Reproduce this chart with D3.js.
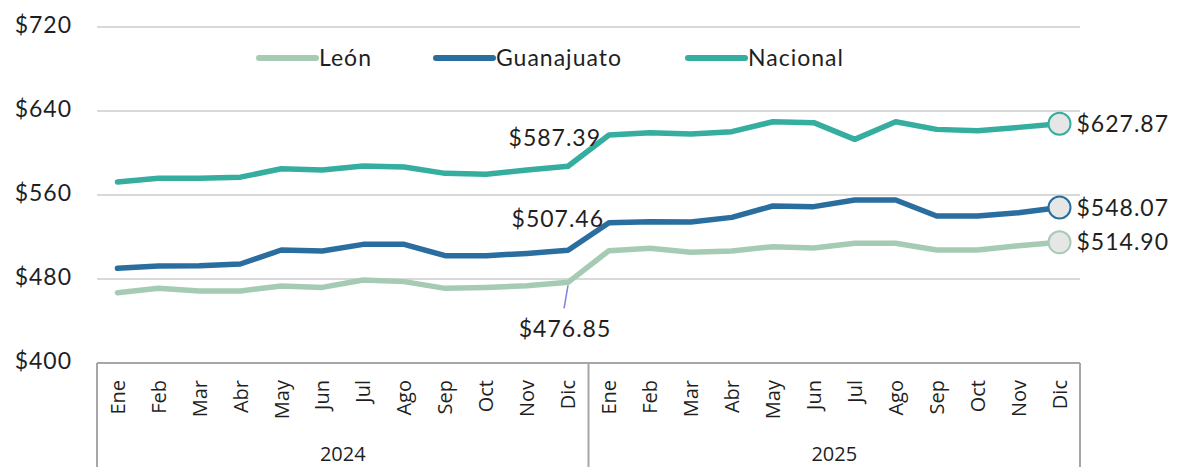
<!DOCTYPE html>
<html>
<head>
<meta charset="utf-8">
<script src="https://cdn.jsdelivr.net/npm/d3@7"></script>
<style>
  body { margin: 0; background: #fff; }
  svg { display: block; }
</style>
</head>
<body>
<div id="chart"></div>
<script>
const months = ["Ene", "Feb", "Mar", "Abr", "May", "Jun", "Jul", "Ago", "Sep", "Oct", "Nov", "Dic"];
const years = ["2024", "2025"];

// monthly values, Ene 2024 .. Dic 2025
const leon = [467.0, 471.1, 468.6, 468.6, 473.3, 472.0, 479.0, 477.5, 471.1, 472.0, 473.6, 476.85,
    507.0, 509.2, 505.4, 506.7, 510.8, 509.5, 514.0, 514.0, 507.6, 507.6, 511.7, 514.90];
const guanajuato = [490.2, 492.4, 492.7, 494.3, 507.6, 506.7, 513.0, 513.0, 502.2, 502.2, 504.4, 507.46,
    533.6, 534.6, 534.3, 538.7, 549.5, 548.9, 555.2, 555.2, 540.0, 540.0, 543.1, 548.07];
const nacional = [572.4, 576.0, 576.0, 577.0, 585.0, 583.8, 587.6, 586.7, 580.6, 579.7, 583.8, 587.39,
    617.1, 619.3, 618.0, 620.3, 629.8, 628.9, 613.0, 629.8, 622.5, 621.3, 624.4, 627.87];

const yTicks = [400, 480, 560, 640, 720];

const series = [
    { name: "León", values: leon, color: "#a6cbb5" },
    { name: "Guanajuato", values: guanajuato, color: "#2a6e9f" },
    { name: "Nacional", values: nacional, color: "#35ad9f" }
];

const width = 1177, height = 467;
const plotLeft = 97, plotRight = 1080, plotTop = 27, plotBottom = 363;

const svg = d3.select("#chart").append("svg")
    .attr("width", width)
    .attr("height", height);

const labels = [];
years.forEach(yr => months.forEach(m => labels.push(yr + "-" + m)));

const x = d3.scaleBand().domain(d3.range(labels.length)).range([plotLeft, plotRight]);
const cx = i => x(i) + x.bandwidth() / 2;
const y = d3.scaleLinear().domain([400, 720]).range([plotBottom, plotTop]);

const valueFont = "Lato, 'Open Sans', sans-serif";
const tickFont = "'Open Sans', 'Noto Sans', sans-serif";
const textColor = "#1f1f1f";

// helper for the value-style text
function valueText(sel) {
    return sel.style("font-family", valueFont)
        .style("font-size", "23px")
        .style("letter-spacing", "1px")
        .attr("fill", textColor);
}

// gridlines
svg.append("g")
    .selectAll("line")
    .data(yTicks.filter(d => d > 400))
    .join("line")
    .attr("x1", plotLeft).attr("x2", plotRight)
    .attr("y1", d => y(d)).attr("y2", d => y(d))
    .attr("stroke", "#d9d9d9")
    .attr("stroke-width", 2);

// y labels
svg.append("g")
    .selectAll("text")
    .data(yTicks)
    .join("text")
    .attr("x", 72)
    .attr("y", d => y(d) - 2)
    .attr("dy", "0.35em")
    .attr("text-anchor", "end")
    .call(valueText)
    .text(d => "$" + d);

// bottom axis with year groups
const axis = svg.append("g");
axis.append("line")
    .attr("x1", plotLeft).attr("x2", plotRight)
    .attr("y1", plotBottom).attr("y2", plotBottom)
    .attr("stroke", "#a6a6a6").attr("stroke-width", 2);
const bounds = [0, months.length, labels.length];
axis.selectAll("line.sep")
    .data(bounds)
    .join("line")
    .attr("class", "sep")
    .attr("x1", i => i < labels.length ? x(i) : plotRight)
    .attr("x2", i => i < labels.length ? x(i) : plotRight)
    .attr("y1", plotBottom).attr("y2", height)
    .attr("stroke", "#a6a6a6").attr("stroke-width", 2);

axis.selectAll("text.month")
    .data(labels)
    .join("text")
    .attr("class", "month")
    .attr("transform", (d, i) => `translate(${cx(i)},380) rotate(-90)`)
    .attr("dy", "0.36em")
    .attr("text-anchor", "end")
    .style("font-family", tickFont)
    .style("font-size", "20px")
    .attr("fill", textColor)
    .text(d => d.split("-")[1]);

axis.selectAll("text.year")
    .data(years)
    .join("text")
    .attr("class", "year")
    .attr("x", (d, i) => (x(i * 12) + (i === years.length - 1 ? plotRight : x((i + 1) * 12))) / 2)
    .attr("y", 454)
    .attr("dy", "0.35em")
    .attr("text-anchor", "middle")
    .style("font-family", tickFont)
    .style("font-size", "20px")
    .attr("fill", textColor)
    .text(d => d);

// lines
const line = d3.line().x((d, i) => cx(i)).y(d => y(d));
svg.append("g")
    .selectAll("path")
    .data(series)
    .join("path")
    .attr("d", d => line(d.values))
    .attr("fill", "none")
    .attr("stroke", d => d.color)
    .attr("stroke-width", 5.5)
    .attr("stroke-linejoin", "round")
    .attr("stroke-linecap", "round");

// end markers and labels
const last = labels.length - 1;
const ends = svg.append("g");
ends.selectAll("circle")
    .data(series)
    .join("circle")
    .attr("cx", cx(last))
    .attr("cy", d => y(d.values[last]))
    .attr("r", 11)
    .attr("fill", "#e6e6e6")
    .attr("stroke", d => d.color)
    .attr("stroke-width", 2);
ends.selectAll("text")
    .data(series)
    .join("text")
    .attr("x", cx(last) + 17)
    .attr("y", d => y(d.values[last]))
    .attr("dy", "0.35em")
    .call(valueText)
    .text(d => "$" + d.values[last].toFixed(2));

// Dic 2024 annotations
const dic = months.length - 1;
svg.append("line")
    .attr("x1", cx(dic)).attr("y1", y(leon[dic]) + 3)
    .attr("x2", cx(dic) - 4).attr("y2", y(leon[dic]) + 26)
    .attr("stroke", "#8080e0").attr("stroke-width", 1.5);
const notes = [
    { v: nacional[dic], x: cx(dic) + 33, y: y(nacional[dic]) - 28, anchor: "end" },
    { v: guanajuato[dic], x: cx(dic) + 36, y: y(guanajuato[dic]) - 31, anchor: "end" },
    { v: leon[dic], x: cx(dic) - 3, y: y(leon[dic]) + 47, anchor: "middle" }
];
svg.append("g")
    .selectAll("text")
    .data(notes)
    .join("text")
    .attr("x", d => d.x)
    .attr("y", d => d.y)
    .attr("dy", "0.35em")
    .attr("text-anchor", d => d.anchor)
    .call(valueText)
    .text(d => "$" + d.v.toFixed(2));

// legend
const legendX = [259, 436, 688];
const lg = svg.append("g")
    .selectAll("g")
    .data(series)
    .join("g")
    .attr("transform", (d, i) => `translate(${legendX[i]},58)`);
lg.append("line")
    .attr("x1", 0).attr("x2", 57)
    .attr("stroke", d => d.color)
    .attr("stroke-width", 6)
    .attr("stroke-linecap", "round");
lg.append("text")
    .attr("x", 60)
    .attr("dy", "0.35em")
    .call(valueText)
    .text(d => d.name);
</script>
</body>
</html>
